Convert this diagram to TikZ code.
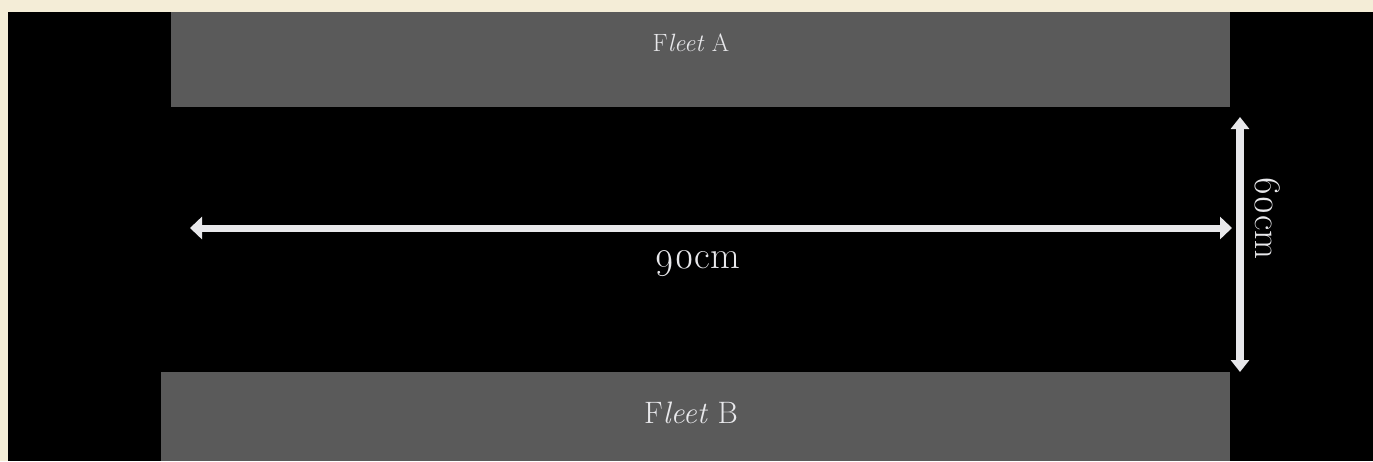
\documentclass[tikz,border=0pt]{standalone}
\usepackage{fontspec}
\setmainfont{Latin Modern Roman}
\usetikzlibrary{arrows.meta}
\definecolor{parch}{RGB}{244,237,215}
\definecolor{fleetgray}{RGB}{90,90,90}
\definecolor{ink}{RGB}{232,232,235}
\newcommand{\onum}[1]{{\addfontfeatures{Numbers=OldStyle}#1}}
\tikzset{
  x=1pt, y=-1pt,
  fleetbox/.style={fill=fleetgray, draw=none},
  lbl/.style={text=ink, inner sep=0pt, anchor=center},
  dimarrow/.style={draw=ink, line width=#1},
}
\begin{document}
\begin{tikzpicture}
\useasboundingbox (0,0) rectangle (1373,461);
\fill[parch] (0,0) rectangle (1373,461);
\fill[black] (8,12) rectangle (1373,461);
% fleet boxes
\path[fleetbox] (171,12) rectangle (1230,107);
\path[fleetbox] (161,372) rectangle (1230,461);
\node[lbl, font=\fontsize{25}{28}\selectfont] (fa) at (691,43) {F\textit{leet} A};
\node[lbl, font=\fontsize{31}{34}\selectfont] (fb) at (691,413) {F\textit{leet} B};
% dimension arrows
\coordinate (hl) at (190,228);
\coordinate (hr) at (1232,228);
\coordinate (vt) at (1240,117);
\coordinate (vb) at (1240,372);
\draw[dimarrow=7pt, {Triangle[width=22pt,length=12pt]}-{Triangle[width=22pt,length=12pt]}] (hl) -- (hr);
\draw[dimarrow=8pt, {Triangle[width=18pt,length=12pt]}-{Triangle[width=18pt,length=12pt]}] (vt) -- (vb);
\node[lbl, font=\fontsize{38.5}{42}\selectfont] (h) at (697,264) {\onum{90cm}};
\node[lbl, font=\fontsize{37.5}{41}\selectfont, rotate=-90] (v) at (1268,218) {\onum{60cm}};
\end{tikzpicture}
\end{document}
